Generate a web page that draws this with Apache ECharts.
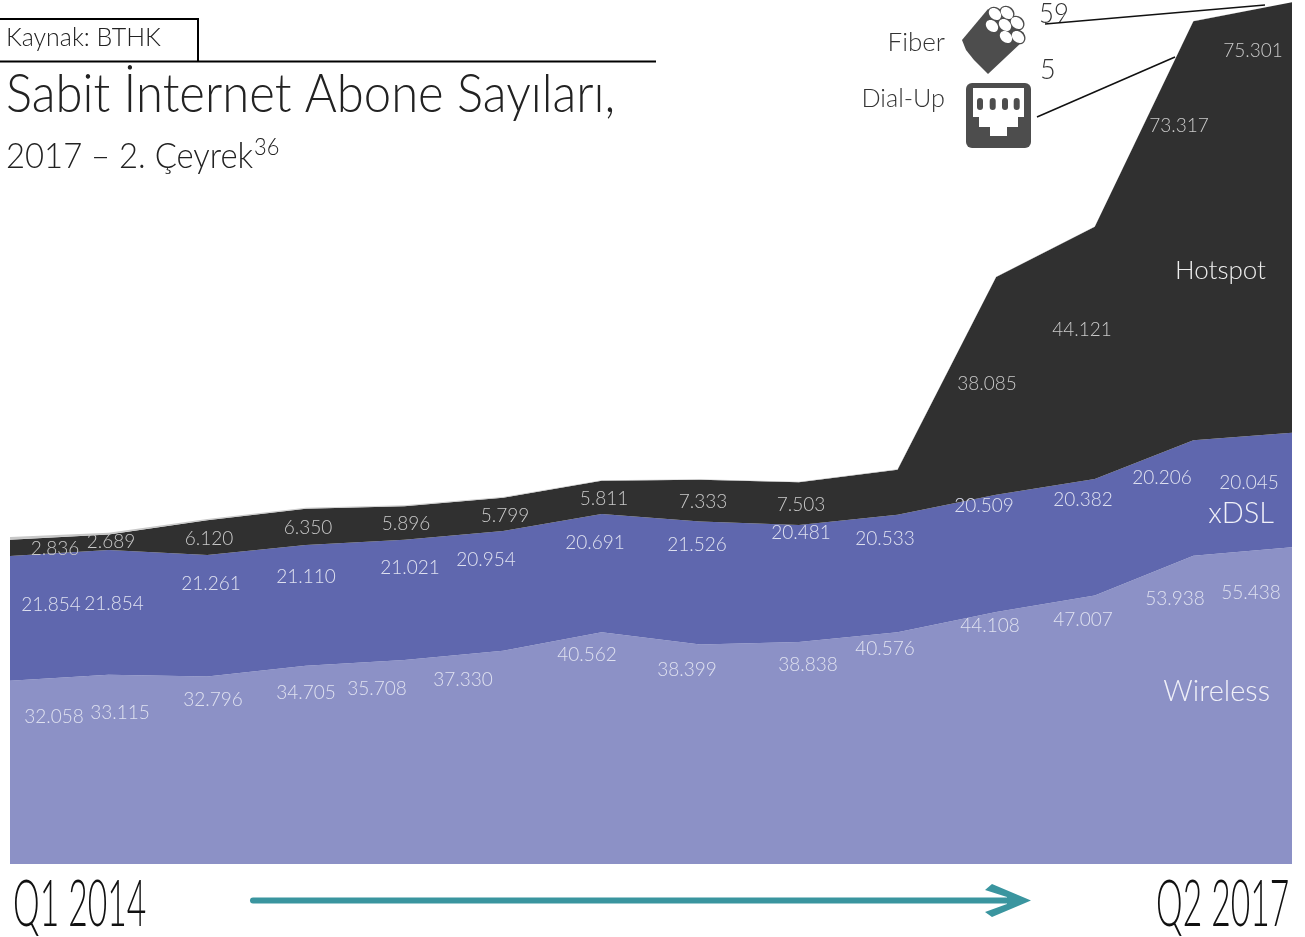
<!DOCTYPE html>
<html><head><meta charset="utf-8">
<style>html,body{margin:0;padding:0;background:#fff}#c{width:1305px;height:937px}</style>
<script src="https://cdn.jsdelivr.net/npm/echarts@6/dist/echarts.min.js"></script>
</head><body><div id="c"></div>
<script>
// Values in thousands of subscribers (Q1 2014 .. Q2 2017)
const categories = ['Q1 2014','Q2 2014','Q3 2014','Q4 2014','Q1 2015','Q2 2015','Q3 2015','Q4 2015','Q1 2016','Q2 2016','Q3 2016','Q4 2016','Q1 2017','Q2 2017'];
const wireless = [32.058,33.115,32.796,34.705,35.708,37.330,40.562,38.399,38.838,40.576,44.108,47.007,53.938,55.438];
const xdsl = [21.854,21.854,21.261,21.110,21.021,20.954,20.691,21.526,20.481,20.533,20.509,20.382,20.206,20.045];
const hotspot = [2.836,2.689,6.120,6.350,5.896,5.799,5.811,7.333,7.503,7.900,38.085,44.121,73.317,75.301];
const fiber = [0.02,0.02,0.02,0.03,0.03,0.03,0.04,0.04,0.04,0.05,0.05,0.05,0.06,0.059];
const dialup = [0.45,0.30,0.18,0.14,0.11,0.09,0.07,0.05,0.04,0.03,0.02,0.01,0.01,0.005];

// Where each value label's centre sits on the page (hand placed in the original)
const wirelessLabelAt = [[54,717],[120,713],[213,700],[306,693],[377,689],[463,680],[587,655],[687,670],[808,665],[885,649],[990,626],[1083,620],[1175,599],[1251,593]];
const xdslLabelAt = [[51,605],[114,604],[211,584],[306,577],[410,568],[486,560],[595,543],[697,545],[801,533],[885,539],[984,506],[1083,500],[1162,478],[1249,483]];
const hotspotLabelAt = [[55,549],[111,542],[209,539],[308,528],[406,524],[505,516],[604,499],[703,502],[801,505],null,[987,384],[1082,330],[1179,126],[1253,51]];

const FONT = 'Lato';
const chart = echarts.init(document.getElementById('c'), null, {renderer:'canvas'});

function txt(text,x,y,size,o){
  o = o||{};
  return {type:'text',x:x,y:y,scaleX:o.sx||1,silent:true,z:20,style:{text:text,fontSize:size,fontFamily:FONT,fontWeight:o.w||300,
    fill:o.c||'#222',textAlign:o.a||'left',textVerticalAlign:'middle'}};
}
const dark = '#4d4d4d';
const teal = '#3a959f';
const fiberHoles = [[995,14],[1007,13],[992,26],[1005,25],[1017,23],[1006,37],[1018,37]];
const pins = [980,992.7,1005,1016.7];
const graphics = [
  {type:'polyline',silent:true,shape:{points:[[0,19],[198,19],[198,61]]},style:{stroke:'#000',lineWidth:2,fill:null}},
  {type:'line',silent:true,shape:{x1:0,y1:61.5,x2:656,y2:61.5},style:{stroke:'#000',lineWidth:2}},
  txt('Kaynak: BTHK',6,38,26,{sx:0.96}),
  txt('Sabit İnternet Abone Sayıları,',6,95,53,{sx:0.925}),
  txt('2017 – 2. Çeyrek',6,156,36,{sx:0.912}),
  txt('36',254,148,23,{sx:0.95}),
  txt('Fiber',945,43,26,{a:'right',c:'#333'}),
  txt('Dial-Up',945,99,26,{a:'right',c:'#333',sx:0.97}),
  txt('59',1039,14,27,{c:'#333',sx:0.95}),
  txt('5',1040,70,27,{c:'#333'}),
  {type:'line',silent:true,z:21,shape:{x1:1045,y1:24,x2:1265,y2:5},style:{stroke:'#111',lineWidth:1.5}},
  {type:'line',silent:true,z:21,shape:{x1:1037,y1:117,x2:1175,y2:57},style:{stroke:'#111',lineWidth:1.5}},
  txt('Hotspot',1175,271,26,{c:'#eee'}),
  txt('xDSL',1274,514,29,{a:'right',c:'#f0f0f8'}),
  txt('Wireless',1270,692,29,{a:'right',c:'#f0f0f8'}),
  txt(categories[0],13,905,66,{sx:0.51,c:'#111'}),
  txt(categories[13],1156,905,66,{sx:0.51,c:'#111'}),
  // progress arrow
  {type:'line',silent:true,shape:{x1:253,y1:900.5,x2:1012,y2:900.5},style:{stroke:teal,lineWidth:6,lineCap:'round'}},
  {type:'polygon',silent:true,shape:{points:[[985,890],[992,884],[1031,900.5],[992,917],[985,912],[1007,904],[1007,897]]},style:{fill:teal}},
  // fiber icon
  {type:'polygon',silent:true,shape:{points:[[962,40],[988,9],[1024,33],[1022,42],[988,74],[974,60],[966,50]]},style:{fill:dark}},
  ...fiberHoles.map(p=>({type:'ellipse',silent:true,x:p[0],y:p[1],rotation:-0.7,shape:{cx:0,cy:0,rx:8,ry:6.8},style:{fill:dark}})),
  ...fiberHoles.map(p=>({type:'ellipse',silent:true,x:p[0],y:p[1],rotation:-0.7,z:3,shape:{cx:0,cy:0,rx:6.8,ry:5.2},style:{fill:'#fff'}})),
  // ethernet icon
  {type:'rect',silent:true,shape:{x:966,y:83,width:65,height:65,r:6},style:{fill:dark}},
  {type:'polygon',silent:true,z:3,shape:{points:[[973,88],[1024,88],[1024,117],[1018,117],[1018,127],[1007,127],[1007,136],[990,136],[990,127],[979,127],[979,117],[973,117]]},style:{fill:'#fff'}},
  ...pins.map(x=>({type:'rect',silent:true,z:4,shape:{x:x-3,y:98,width:6,height:12,r:3},style:{fill:dark}}))
];

function seriesOf(name,data,color,labelColor){
  return {name:name,type:'line',stack:'total',data:data,smooth:false,silent:true,
    symbol:'circle',symbolSize:0,showSymbol:true,showAllSymbol:true,
    lineStyle:{width:0},areaStyle:{color:color,opacity:1},itemStyle:{color:color},
    label:{show:!!labelColor,position:'inside',color:labelColor,fontFamily:FONT,fontWeight:300,fontSize:19,
      align:'center',verticalAlign:'middle',formatter:p=>p.value.toFixed(3)}};
}
const base = {
  animation:false,backgroundColor:'#fff',
  grid:{left:10,right:13,top:2,bottom:73},
  xAxis:{type:'category',data:categories,boundaryGap:false,show:false},
  yAxis:{type:'value',min:0,max:150.848,show:false},
  graphic:graphics,
  series:[
    seriesOf('Wireless',wireless,'#8c91c6','#dfe1f0'),
    seriesOf('xDSL',xdsl,'#5f67ae','#dfe1f0'),
    seriesOf('Hotspot',hotspot,'#303030','#c9c9c9'),
    seriesOf('Fiber',fiber,'#bdbdbd',null),
    seriesOf('Dial-Up',dialup,'#c8c8c8',null)
  ]
};
chart.setOption(base);

// Move each label from its stacked point to its placed position
function placed(values,stackBelow,targets){
  return values.map((v,i)=>{
    const t = targets[i];
    if(!t) return {value:v,label:{show:false}};
    const p = chart.convertToPixel({xAxisIndex:0,yAxisIndex:0},[i,stackBelow[i]+v]);
    return {value:v,label:{offset:[t[0]-p[0],t[1]-p[1]]}};
  });
}
const zero = wireless.map(()=>0);
const s1 = wireless;
const s2 = wireless.map((v,i)=>v+xdsl[i]);
chart.setOption({series:[
  {data:placed(wireless,zero,wirelessLabelAt)},
  {data:placed(xdsl,s1,xdslLabelAt)},
  {data:placed(hotspot,s2,hotspotLabelAt)}
]});
</script></body></html>
